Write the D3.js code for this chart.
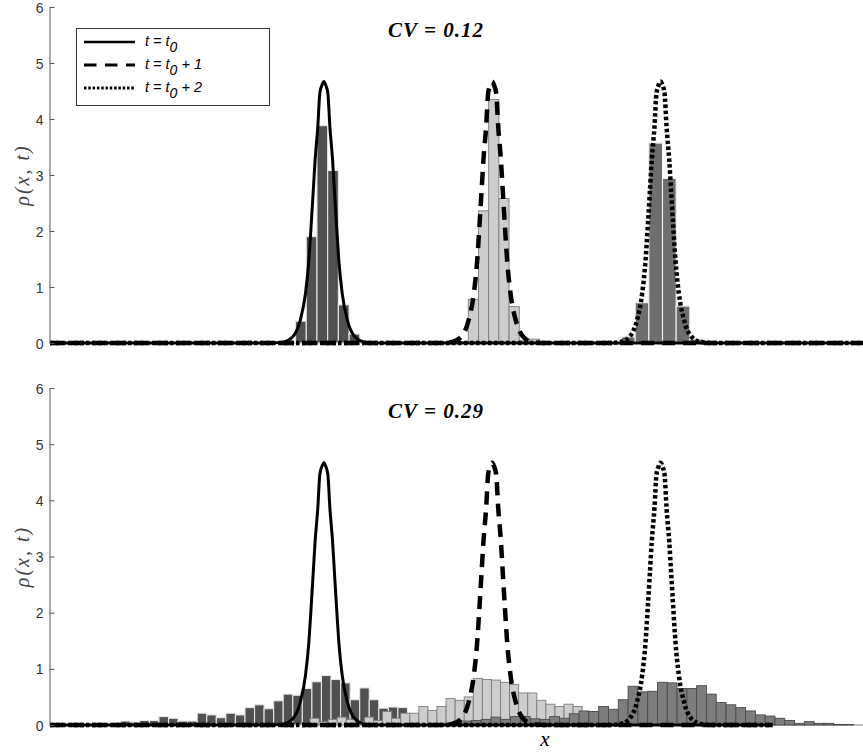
<!DOCTYPE html>
<html>
<head>
<meta charset="utf-8">
<script src="https://cdn.jsdelivr.net/npm/d3@7"></script>
<style>
  body { margin: 0; background: #fff; }
  svg { display: block; }
</style>
</head>
<body>
<svg id="chart" width="863" height="756"></svg>
<script>
// peak centres of the three density curves (t0, t0+1, t0+2)
const centers = [1.63, 2.632, 3.634]

// half profile of a density curve: offset from centre -> rho
const profileOffset = [0, 0.012, 0.024, 0.036, 0.052, 0.064, 0.076, 0.089, 0.109, 0.14, 0.185, 0.238, 0.31]
const profileValue  = [4.67, 4.6, 4.46, 3.86, 3.27, 2.67, 2.08, 1.48, 0.89, 0.41, 0.11, 0.02, 0]

const yTicks = [0, 1, 2, 3, 4, 5, 6]
const cvLabels = ['CV = 0.12', 'CV = 0.29']
const legendLabels = ['', ' + 1', ' + 2']

// histograms, first bin left edge + bin width (x units) + bar heights
const topSolidStart = 1.398, topSolidWidth = 0.0637
const topSolidBars = [0.02, 0.39, 1.9, 3.88, 3.08, 0.68, 0.16, 0.03]

const topDashStart = 2.429, topDashWidth = 0.0607
const topDashBars = [0.02, 0.78, 2.36, 4.35, 2.58, 0.65, 0.04, 0.07]

const topDotStart = 3.402, topDotWidth = 0.0813
const topDotBars = [0.11, 0.72, 3.57, 2.94, 0.66, 0.07]

const botSolidStart = 0.0226, botSolidWidth = 0.0569
const botSolidBars = [0.01, 0.01, 0.02, 0.01, 0.01, 0.02, 0.01,
  0.07, 0.05, 0.08, 0.08, 0.15, 0.12, 0.07, 0.07, 0.21, 0.18, 0.13, 0.21, 0.18,
  0.31, 0.36, 0.29, 0.43, 0.55, 0.53, 0.65, 0.77, 0.88, 0.81, 0.75, 0.45, 0.66, 0.45,
  0.30, 0.32, 0.31, 0.18, 0.12, 0.08, 0.05, 0.02]

const botDashStart = 1.5476, botDashWidth = 0.054
const botDashBars = [0.12, 0.06, 0.10, 0.14, 0.10, 0.06, 0.14, 0.08, 0.24, 0.12,
  0.21, 0.21, 0.33, 0.26, 0.33, 0.47, 0.44, 0.50, 0.83, 0.81, 0.80, 0.76, 0.72,
  0.57, 0.57, 0.44, 0.37, 0.33, 0.37, 0.33, 0.22, 0.15, 0.10, 0.06, 0.03]

const botDotStart = 2.275, botDotWidth = 0.0583
const botDotBars = [0.02, 0.03, 0.05, 0.07, 0.08, 0.10, 0.14, 0.10, 0.15, 0.15,
  0.11, 0.10, 0.15, 0.12, 0.20, 0.25, 0.24, 0.33, 0.28, 0.45, 0.69, 0.59, 0.60,
  0.76, 0.75, 0.65, 0.65, 0.70, 0.55, 0.40, 0.36, 0.31, 0.25, 0.18, 0.16, 0.12,
  0.08, 0.03, 0.06, 0.03, 0.03, 0.01, 0.01]

// x extent the curves are drawn over, per panel
const topCurveEnd = 5
const botCurveEnd = 4.3

const barStyles = {
  dark:   { fill: '#505050', stroke: '#e6e6e6', width: 1.1 },
  light:  { fill: '#cdcdcd', stroke: '#7c7c7c', width: 0.9 },
  medium: { fill: '#6e6e6e', stroke: '#f0f0f0', width: 1.1 },
  medium2:{ fill: '#7d7d7d', stroke: '#4a4a4a', width: 0.9 }
}
const lineStyles = [
  { dash: null, width: 3 },
  { dash: '13,8', width: 4.5 },
  { dash: '3.5,2.5', width: 4.5 }
]

const svg = d3.select('#chart')

const xScale = d3.scaleLinear().domain([0, 5]).range([50, 890])

const panels = [
  { top: 7, bottom: 343, cv: cvLabels[0], cvY: 37, curveEnd: topCurveEnd,
    hists: [
      { start: topSolidStart, w: topSolidWidth, bars: topSolidBars, style: barStyles.dark },
      { start: topDashStart, w: topDashWidth, bars: topDashBars, style: barStyles.light },
      { start: topDotStart, w: topDotWidth, bars: topDotBars, style: barStyles.medium }
    ] },
  { top: 388, bottom: 725, cv: cvLabels[1], cvY: 418, curveEnd: botCurveEnd,
    hists: [
      { start: botSolidStart, w: botSolidWidth, bars: botSolidBars, style: barStyles.dark },
      { start: botDashStart, w: botDashWidth, bars: botDashBars, style: barStyles.light },
      { start: botDotStart, w: botDotWidth, bars: botDotBars, style: barStyles.medium2 }
    ] }
]

const curvePoints = (c, end) => {
  const right = profileOffset.map((o, i) => [c + o, profileValue[i]])
  const left = right.slice(1).map(p => [2 * c - p[0], p[1]]).reverse()
  return [[0, 0], ...left, ...right, [end, 0]]
}

const drawPanel = (p, iter) => {
  const yScale = d3.scaleLinear().domain([0, 6]).range([p.bottom, p.top])
  const g = svg.append('g').attr('id', `panel${iter}`)

  // x baseline
  g.append('line')
    .attr('x1', 50).attr('x2', 863)
    .attr('y1', p.bottom).attr('y2', p.bottom)
    .attr('stroke', '#777').attr('stroke-width', 1)

  // histograms
  p.hists.forEach(h => {
    g.append('g')
      .selectAll('rect')
      .data(h.bars)
      .enter()
      .append('rect')
      .attr('x', (d, i) => xScale(h.start + i * h.w))
      .attr('width', (d, i) => xScale(h.start + (i + 1) * h.w) - xScale(h.start + i * h.w))
      .attr('y', d => yScale(d))
      .attr('height', d => yScale(0) - yScale(d))
      .attr('fill', h.style.fill)
      .attr('stroke', h.style.stroke)
      .attr('stroke-width', h.style.width)
  })

  // density curves
  const line = d3.line()
    .x(d => xScale(d[0]))
    .y(d => yScale(d[1]))
    .curve(d3.curveMonotoneX)

  centers.forEach((c, i) => {
    g.append('path')
      .attr('d', line(curvePoints(c, p.curveEnd)))
      .attr('fill', 'none')
      .attr('stroke', '#000')
      .attr('stroke-width', lineStyles[i].width)
      .attr('stroke-dasharray', lineStyles[i].dash)
      .attr('stroke-linejoin', 'round')
  })

  // y axis
  const axis = g.append('g')
    .attr('transform', 'translate(49.5,0)')
    .call(d3.axisLeft(yScale).tickValues(yTicks).tickFormat(d3.format('d'))
      .tickSizeInner(-5).tickSizeOuter(0).tickPadding(6))
  axis.select('.domain').attr('stroke', '#555')
  axis.selectAll('.tick line').attr('stroke', '#555')
  axis.selectAll('.tick text')
    .attr('fill', '#333')
    .attr('dy', '0.36em')
    .style('font-family', 'Liberation Sans, Arial, sans-serif')
    .style('font-size', '14px')

  g.append('text')
    .attr('transform', `translate(29,${(p.top + p.bottom) / 2}) rotate(-90)`)
    .attr('text-anchor', 'middle')
    .style('font-family', 'Liberation Serif, serif')
    .style('font-style', 'italic')
    .style('font-size', '20px')
    .style('letter-spacing', '2px')
    .attr('fill', '#444')
    .text('ρ(x, t)')

  g.append('text')
    .attr('x', 436).attr('y', p.cvY)
    .attr('text-anchor', 'middle')
    .style('font-family', 'Liberation Serif, serif')
    .style('font-style', 'italic')
    .style('font-weight', 'bold')
    .style('font-size', '21px')
    .style('letter-spacing', '1px')
    .text(p.cv)
}

panels.forEach((p, iter) => drawPanel(p, iter))

// x label
svg.append('text')
  .attr('x', 545).attr('y', 746)
  .attr('text-anchor', 'middle')
  .style('font-family', 'Liberation Serif, serif')
  .style('font-style', 'italic')
  .style('font-size', '21px')
  .text('x')

// legend
const legend = svg.append('g')
legend.append('rect')
  .attr('x', 76.5).attr('y', 28.5).attr('width', 193).attr('height', 77)
  .attr('fill', '#fff').attr('stroke', '#333').attr('stroke-width', 1)

const legendDash = [null, '12.5,8.5', '2.5,1.8']
const legendY = [42, 65, 88]
legendLabels.forEach((lab, i) => {
  legend.append('line')
    .attr('x1', 84).attr('x2', 135)
    .attr('y1', legendY[i]).attr('y2', legendY[i])
    .attr('stroke', '#000')
    .attr('stroke-width', i == 0 ? 2.5 : 3)
    .attr('stroke-dasharray', legendDash[i])
  const t = legend.append('text')
    .attr('x', 145).attr('y', legendY[i] + 4)
    .style('font-family', 'Liberation Sans, Arial, sans-serif')
    .style('font-style', 'italic')
    .style('font-size', '14.5px')
  t.append('tspan').text('t = t')
  t.append('tspan').attr('dy', 6).attr('font-size', '14px').text('0')
  t.append('tspan').attr('dy', -6).text(lab)
})
</script>
</body>
</html>
